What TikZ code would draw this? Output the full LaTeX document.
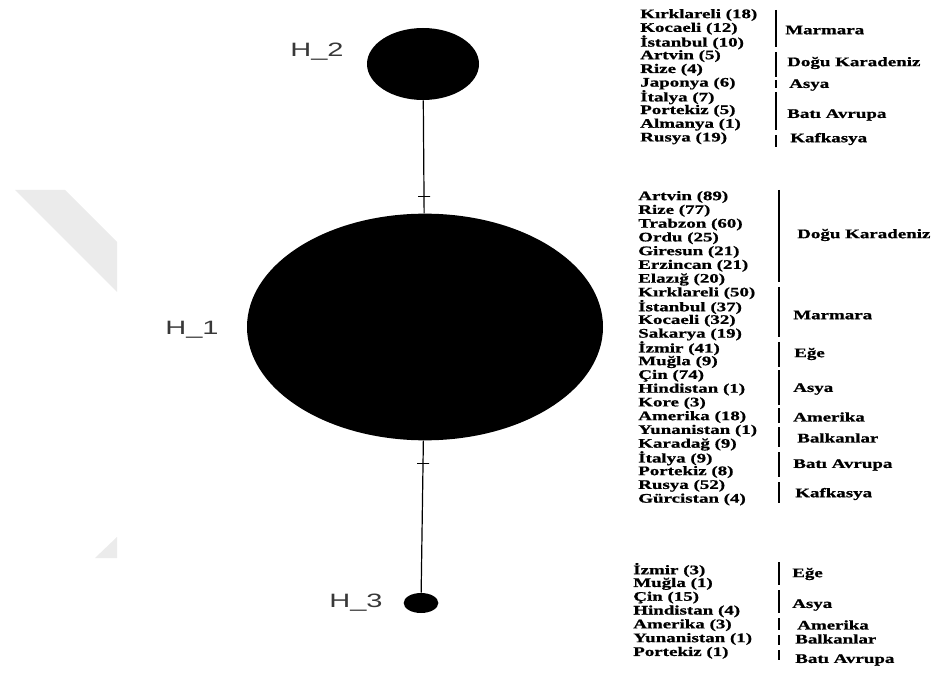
\documentclass[tikz,border=0pt]{standalone}
\usepackage{fontspec}
\setmainfont{Liberation Serif}
\newfontfamily\listfont{Liberation Serif}[FakeStretch=1.45, BoldFeatures={FakeBold=1}]
\newfontfamily\hapfont{Liberation Sans}[FakeStretch=1.5]
\usetikzlibrary{shapes.geometric}
\definecolor{wmark}{gray}{0.92}
\definecolor{hlabel}{gray}{0.22}

\begin{document}
\begin{tikzpicture}[
    x=0.75pt, y=-0.75pt,
    hap/.style={fill=black, ellipse, inner sep=0pt},
    hlbl/.style={font=\hapfont\fontsize{14.5}{15}\selectfont, text=hlabel, inner sep=0pt},
    link/.style={line width=0.9pt},
    tickmark/.style={draw, line width=0.6pt, minimum width=9pt, minimum height=0pt, inner sep=0pt},
    item/.style={anchor=west, inner sep=0pt, font=\listfont\bfseries\fontsize{9.8}{10}\selectfont},
    bar/.style={line width=1.1pt},
]
\useasboundingbox (0,0) rectangle (931,673);

% watermark
\fill[wmark] (15,190) -- (65,190) -- (117,242) -- (117,292) -- cycle;
\fill[wmark] (95,558) -- (117,537) -- (117,558) -- cycle;

% haplotypes
\node[hap, minimum width=84pt, minimum height=54pt] (h2) at (423,64) {};
\node[hap, minimum width=267pt, minimum height=170pt] (h1) at (425,327) {};
\node[hap, minimum width=26pt, minimum height=15pt] (h3) at (421,603) {};

\node[hlbl] (l2) at (317,52) {H\_2};
\node[hlbl] (l1) at (192,330) {H\_1};
\node[hlbl] (l3) at (356,603) {H\_3};

\draw[link] (h2) -- (h1) node[tickmark, pos=0.85] (t1) {};
\draw[link] (h1) -- (h3) node[tickmark, pos=0.15] (t2) {};

% H_2 list
\foreach \i/\name in {0/Kırklareli (18), 1/Kocaeli (12), 2/İstanbul (10), 3/Artvin (5), 4/Rize (4),
    5/Japonya (6), 6/İtalya (7), 7/Portekiz (5), 8/Almanya (1), 9/Rusya (19)} {
    \pgfmathsetmacro{\ypos}{15 + \i * 13.7}
    \node[item] (a_\i) at (640, \ypos) {\name};
}
\foreach \j/\top/\bot/\lx/\ly/\name in {0/10/47/785/30/Marmara, 1/52/77/787/63/Doğu Karadeniz,
    2/80/88/789/85/Asya, 3/92/130/787/115/Batı Avrupa, 4/135/147/790/139/Kafkasya} {
    \draw[bar] (776,\top) -- (776,\bot);
    \node[item] (ga_\j) at (\lx,\ly) {\name};
}

% H_1 list
\foreach \i/\name in {0/Artvin (89), 1/Rize (77), 2/Trabzon (60), 3/Ordu (25), 4/Giresun (21),
    5/Erzincan (21), 6/Elazığ (20), 7/Kırklareli (50), 8/İstanbul (37), 9/Kocaeli (32),
    10/Sakarya (19), 11/İzmir (41), 12/Muğla (9), 13/Çin (74), 14/Hindistan (1), 15/Kore (3),
    16/Amerika (18), 17/Yunanistan (1), 18/Karadağ (9), 19/İtalya (9), 20/Portekiz (8),
    21/Rusya (52), 22/Gürcistan (4)} {
    \pgfmathsetmacro{\ypos}{197 + \i * 13.75}
    \node[item] (b_\i) at (638, \ypos) {\name};
}
\foreach \j/\top/\bot/\lx/\ly/\name in {0/190/282/797/235/Doğu Karadeniz, 1/287/337/793/315/Marmara,
    2/342/367/794/354/Eğe, 3/370/405/793/389/Asya, 4/408/423/793/417/Amerika,
    5/427/447/797/438/Balkanlar, 6/452/477/793/465/Batı Avrupa, 7/482/503/795/494/Kafkasya} {
    \draw[bar] (779,\top) -- (779,\bot);
    \node[item] (gb_\j) at (\lx,\ly) {\name};
}

% H_3 list
\foreach \i/\name in {0/İzmir (3), 1/Muğla (1), 2/Çin (15), 3/Hindistan (4), 4/Amerika (3),
    5/Yunanistan (1), 6/Portekiz (1)} {
    \pgfmathsetmacro{\ypos}{570 + \i * 13.8}
    \node[item] (c_\i) at (633, \ypos) {\name};
}
\foreach \j/\top/\bot/\lx/\ly/\name in {0/562/585/792/574/Eğe, 1/590/613/792/605/Asya,
    2/618/630/797/625/Amerika, 3/635/645/795/639/Balkanlar, 4/650/660/795/660/Batı Avrupa} {
    \draw[bar] (779,\top) -- (779,\bot);
    \node[item] (gc_\j) at (\lx,\ly) {\name};
}

\end{tikzpicture}
\end{document}
